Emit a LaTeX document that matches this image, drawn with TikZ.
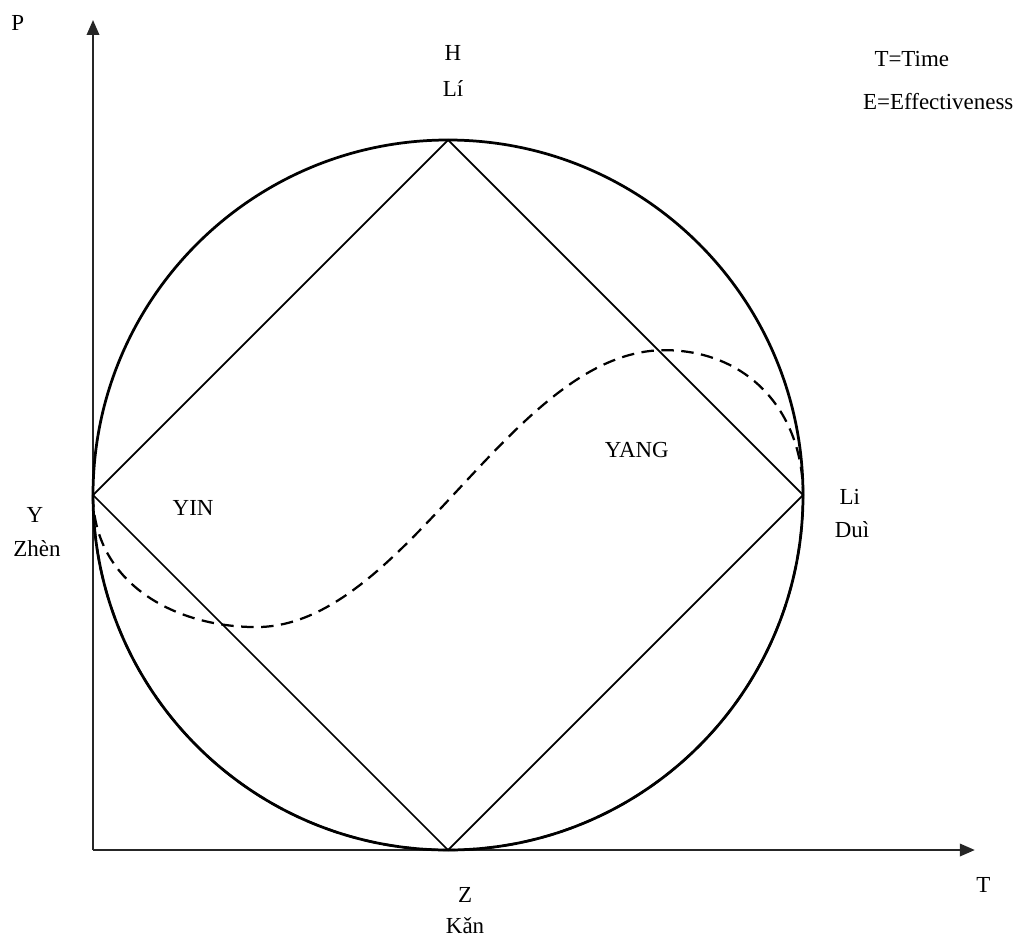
\documentclass[tikz,border=0pt]{standalone}
\usepackage{fontspec}
\setmainfont{Liberation Serif}
\usetikzlibrary{arrows.meta}
\tikzset{lbl/.style={font=\fontsize{9.2}{11}\selectfont, inner sep=0pt}}

\begin{document}
\begin{tikzpicture}
\useasboundingbox (-1.310,-1.211) rectangle (13.028,11.972);

% axes
\coordinate (O) at (0,0);
\coordinate (Tend) at (12.42,0);
\coordinate (Pend) at (0,11.69);
\draw[-{Triangle[length=6pt,width=5pt]}, line width=0.8, color=black!85] (O)--(Tend);
\draw[-{Triangle[length=6pt,width=5pt]}, line width=0.8, color=black!85] (O)--(Pend);

% circle and square
\coordinate (C) at (5,5);
\coordinate (H) at (5,10);
\coordinate (L) at (10,5);
\coordinate (Z) at (5,0);
\coordinate (Y) at (0,5);

\draw[line width=1.1] (C) circle (5);
\draw[line width=0.7] (Y)--(H)--(L)--(Z)--cycle;

% yin yang curve
\draw[line width=0.9, dash pattern=on 5pt off 3pt] (Y) .. controls (0,3.8) and (1.1,3.14) .. (2.3,3.14)
  .. controls (4.4,3.14) and (5.9,7.04) .. (8.05,7.04)
  .. controls (9.2,7.04) and (10,6.2) .. (L)
  arc[start angle=0, end angle=-180, radius=5];

% labels
\node[lbl] (pLbl) at (-1.06,11.65) {P};
\node[lbl] (tLbl) at (12.54,-0.49) {T};
\node[lbl] (hLbl) at (5.07,11.23) {H};
\node[lbl] (hName) at (5.07,10.73) {Lí};
\node[lbl, anchor=west] (tKey) at (11.0,11.14) {T=Time};
\node[lbl, anchor=west] (eKey) at (10.84,10.54) {E=Effectiveness};
\node[lbl] (yLbl) at (-0.82,4.72) {Y};
\node[lbl] (yName) at (-0.79,4.25) {Zhèn};
\node[lbl] (yin) at (1.41,4.82) {YIN};
\node[lbl] (yang) at (7.66,5.63) {YANG};
\node[lbl] (lLbl) at (10.66,4.97) {Li};
\node[lbl] (lName) at (10.69,4.51) {Duì};
\node[lbl] (zLbl) at (5.24,-0.63) {Z};
\node[lbl] (zName) at (5.24,-1.06) {Kǎn};
\end{tikzpicture}
\end{document}
